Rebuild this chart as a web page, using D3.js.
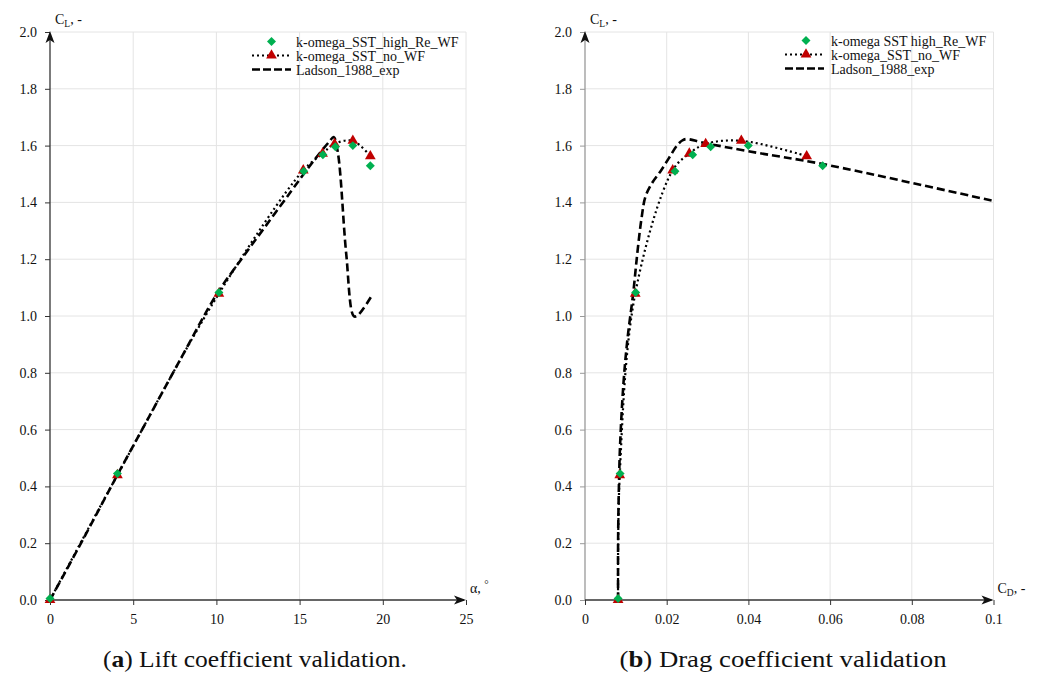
<!DOCTYPE html>
<html><head><meta charset="utf-8">
<script src="https://cdn.jsdelivr.net/npm/d3@7"></script>
<style>body{margin:0;background:#fff}svg{display:block}text{font-family:"Liberation Serif","Times New Roman",serif}</style>
</head><body>
<svg id="c" width="1043" height="673"></svg>
<script>
// ---------- data ----------
const seriesNames = ["k-omega_SST_high_Re_WF", "k-omega_SST_no_WF", "Ladson_1988_exp"];
const seriesNamesB = ["k-omega SST high_Re_WF", "k-omega_SST_no_WF", "Ladson_1988_exp"];
const clTicks = [0, 0.2, 0.4, 0.6, 0.8, 1.0, 1.2, 1.4, 1.6, 1.8, 2.0];
const alphaTicks = [0, 5, 10, 15, 20, 25];
const cdTicks = [0, 0.02, 0.04, 0.06, 0.08, 0.1];

// (a) lift: alpha, CL
const highReAlpha = [0, 4.05, 10.15, 15.25, 16.4, 17.15, 18.2, 19.25];
const highReCL    = [0.005, 0.445, 1.083, 1.51, 1.568, 1.596, 1.600, 1.529];
const noWFAlpha   = [0, 4.05, 10.15, 15.22, 16.38, 17.1, 18.2, 19.25];
const noWFCL      = [0.0, 0.44, 1.079, 1.513, 1.572, 1.606, 1.617, 1.563];
const ladsonAlpha = [0, 2, 4, 6, 8, 10, 11.5, 13, 14.5, 15.5, 16.3, 16.8, 17.05, 17.3, 17.8, 18.25, 18.45, 19.3];
const ladsonCL    = [0, 0.215, 0.435, 0.65, 0.865, 1.075, 1.2, 1.32, 1.44, 1.52, 1.58, 1.615, 1.63, 1.575, 1.22, 1.0, 1.0, 1.068];

// (b) drag: CD, CL
const highReCD = [0.0081, 0.0086, 0.01241, 0.02203, 0.02636, 0.03076, 0.03998, 0.05818];
const noWFCD   = [0.0081, 0.0085, 0.0123, 0.02146, 0.02554, 0.02954, 0.03827, 0.05426];
const ladsonCD  = [0.0081, 0.0081, 0.0083, 0.0086, 0.0094, 0.0104, 0.0118, 0.0128, 0.0138, 0.0148, 0.0165, 0.0185, 0.0205, 0.0225, 0.0238, 0.0248, 0.029, 0.04, 0.0582, 0.1];
const ladsonCL2 = [0, 0.2, 0.4, 0.55, 0.76, 0.92, 1.08, 1.22, 1.34, 1.42, 1.47, 1.51, 1.555, 1.6, 1.618, 1.623, 1.61, 1.58, 1.535, 1.405];

const green = "#00b050", red = "#c00000";
const svg = d3.select("#c");

function panel(o) {
  const x = d3.scaleLinear().domain(o.xDomain).range(o.xRange);
  const y = d3.scaleLinear().domain([0, 2]).range([600, 32]);
  const g = svg.append("g");
  // gridlines
  g.selectAll(".hg").data(clTicks.slice(1)).join("line")
    .attr("x1", o.xRange[0]).attr("x2", o.xRange[1])
    .attr("y1", d => y(d)).attr("y2", d => y(d))
    .attr("stroke", "#e4e4e4").attr("stroke-width", 1);
  g.selectAll(".vg").data(o.xTicks.slice(1)).join("line")
    .attr("x1", d => x(d)).attr("x2", d => x(d))
    .attr("y1", 32).attr("y2", 600)
    .attr("stroke", "#e4e4e4").attr("stroke-width", 1);
  // axes
  const yAx = g.append("g").attr("transform", `translate(${o.xRange[0]},0)`)
    .call(d3.axisLeft(y).tickValues(clTicks).tickFormat(d3.format(".1f")).tickSize(5).tickPadding(8));
  yAx.select(".domain").remove();
  yAx.selectAll("line").attr("stroke", o.yAxisColor);
  yAx.selectAll("text").attr("font-size", 14).attr("fill", "#111");
  const xAx = g.append("g").attr("transform", "translate(0,600)")
    .call(d3.axisBottom(x).tickValues(o.xTicks).tickFormat(o.xFormat).tickSize(5).tickPadding(9));
  xAx.select(".domain").remove();
  xAx.selectAll("line").attr("stroke", "#333");
  xAx.selectAll("text").attr("font-size", 14).attr("fill", "#111");
  g.append("line").attr("x1", o.xRange[0]).attr("x2", o.xRange[0]).attr("y1", 600).attr("y2", 34)
    .attr("stroke", o.yAxisColor).attr("stroke-width", 1.3);
  g.append("line").attr("x1", o.xRange[0]).attr("x2", o.xRange[1] - 2).attr("y1", 600).attr("y2", 600)
    .attr("stroke", "#333").attr("stroke-width", 1.3);
  // arrowheads
  const x0 = o.xRange[0], x1 = o.xRange[1];
  g.append("path").attr("d", `M${x0},31 L${x0 + 4.5},43 L${x0},40 L${x0 - 4.5},43 Z`).attr("fill", "#111");
  g.append("path").attr("d", `M${x1},600 L${x1 - 12},595.5 L${x1 - 9},600 L${x1 - 12},604.5 Z`).attr("fill", "#111");
  // axis titles
  const yt = g.append("text").attr("x", x0 + 5).attr("y", 24).attr("font-size", 14).attr("fill", "#111");
  yt.append("tspan").text("C");
  yt.append("tspan").attr("font-size", 9.5).attr("dy", 3).text("L");
  yt.append("tspan").attr("dy", -3).text(", -");
  const xt = g.append("text").attr("x", x1 + 4).attr("y", 593).attr("font-size", 14).attr("fill", "#111");
  if (o.xTitle === "alpha") {
    xt.append("tspan").text("α, ");
    xt.append("tspan").attr("font-size", 11).attr("dy", -5).text("°");
  } else {
    xt.append("tspan").text("C");
    xt.append("tspan").attr("font-size", 9.5).attr("dy", 3).text("D");
    xt.append("tspan").attr("dy", -3).text(", -");
  }
  // lines
  const lad = o.ladX.map((v, i) => [v, o.ladY[i]]);
  const nwf = o.nwX.map((v, i) => [v, o.nwY[i]]);
  const hre = o.hrX.map((v, i) => [v, o.hrY[i]]);
  g.append("path").datum(lad)
    .attr("d", d3.line().x(d => x(d[0])).y(d => y(d[1])).curve(d3.curveCatmullRom.alpha(0.5)))
    .attr("fill", "none").attr("stroke", "#000").attr("stroke-width", 2.6).attr("stroke-dasharray", "8,4");
  g.append("path").datum(nwf)
    .attr("d", d3.line().x(d => x(d[0])).y(d => y(d[1])).curve(d3.curveCatmullRom.alpha(0.5)))
    .attr("fill", "none").attr("stroke", "#000").attr("stroke-width", 2.2).attr("stroke-dasharray", "2,3");
  // markers
  const tri = d3.symbol().type(d3.symbolTriangle).size(50);
  const dia = d3.symbol().type(d3.symbolSquare).size(40);
  g.selectAll(".tri").data(nwf).join("path")
    .attr("d", tri).attr("transform", d => `translate(${x(d[0])},${y(d[1])})`).attr("fill", red);
  g.selectAll(".dia").data(hre).join("path")
    .attr("d", dia).attr("transform", d => `translate(${x(d[0])},${y(d[1])}) rotate(45)`).attr("fill", green);
  // legend
  const L = o.legend;
  const rows = [L.y0, L.y0 + 14, L.y0 + 28];
  g.append("path").attr("d", dia).attr("transform", `translate(${L.mx},${rows[0]}) rotate(45)`).attr("fill", green);
  g.append("line").attr("x1", L.lx0).attr("x2", L.lx1).attr("y1", rows[1]).attr("y2", rows[1])
    .attr("stroke", "#000").attr("stroke-width", 2.2).attr("stroke-dasharray", "2,3");
  g.append("path").attr("d", tri).attr("transform", `translate(${L.mx},${rows[1]})`).attr("fill", red);
  g.append("line").attr("x1", L.lx0).attr("x2", L.lx1).attr("y1", rows[2]).attr("y2", rows[2])
    .attr("stroke", "#000").attr("stroke-width", 2.6).attr("stroke-dasharray", "8,3");
  o.names.forEach((n, i) => {
    g.append("text").attr("x", L.tx).attr("y", rows[i] + 5).attr("font-size", 14).attr("fill", "#111").text(n);
  });
  // caption
  const cap = svg.append("text").attr("x", o.capX).attr("y", 667).attr("text-anchor", "middle")
    .attr("font-size", 24).attr("fill", "#111")
    .attr("textLength", o.capW).attr("lengthAdjust", "spacingAndGlyphs");
  cap.append("tspan").text("(");
  cap.append("tspan").attr("font-weight", "bold").text(o.capLetter);
  cap.append("tspan").text(") " + o.capText);
}

panel({
  xDomain: [0, 25], xRange: [50, 466], xTicks: alphaTicks, xFormat: d3.format("d"),
  yAxisColor: "#333", xTitle: "alpha",
  ladX: ladsonAlpha, ladY: ladsonCL, nwX: noWFAlpha, nwY: noWFCL, hrX: highReAlpha, hrY: highReCL,
  legend: { y0: 41.5, mx: 271.5, lx0: 252, lx1: 291, tx: 296 }, names: seriesNames,
  capX: 255, capW: 304, capLetter: "a", capText: "Lift coefficient validation."
});
panel({
  xDomain: [0, 0.1], xRange: [585, 993.5], xTicks: cdTicks, xFormat: d => d === 0 ? "0" : (d === 0.1 ? "0.1" : d3.format(".2f")(d)),
  yAxisColor: "#999", xTitle: "CD",
  ladX: ladsonCD, ladY: ladsonCL2, nwX: noWFCD, nwY: noWFCL, hrX: highReCD, hrY: highReCL,
  legend: { y0: 40.5, mx: 806, lx0: 785, lx1: 824, tx: 831 }, names: seriesNamesB,
  capX: 783, capW: 327, capLetter: "b", capText: "Drag coefficient validation"
});
</script>
</body></html>
